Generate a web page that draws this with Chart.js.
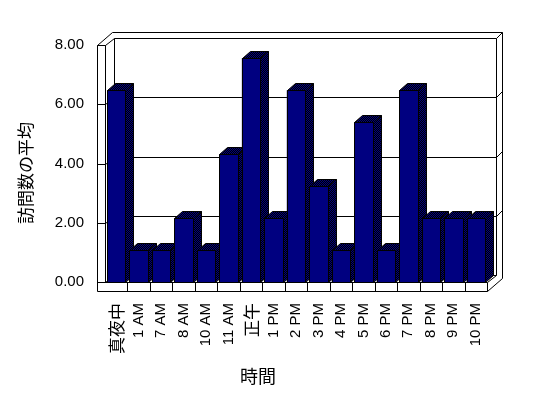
<!DOCTYPE html>
<html>
<head>
<meta charset="utf-8">
<script src="https://cdn.jsdelivr.net/npm/chart.js@4.4.1/dist/chart.umd.min.js"></script>
<style>
  html, body { margin: 0; padding: 0; background: #fff; }
  canvas { display: block; }
</style>
</head>
<body>
<canvas id="chart" width="548" height="398"></canvas>
<script>
// data
const hours = ['真夜中', '1 AM', '7 AM', '8 AM', '10 AM', '11 AM', '正午', '1 PM', '2 PM', '3 PM', '4 PM', '5 PM', '6 PM', '7 PM', '8 PM', '9 PM', '10 PM'];
const avgVisits = [6.47, 1.07, 1.07, 2.15, 1.07, 4.31, 7.55, 2.15, 6.47, 3.23, 1.07, 5.39, 1.07, 6.47, 2.15, 2.15, 2.15];
const yTicks = [0, 2, 4, 6, 8];
const xTitle = '時間';
const yTitle = '訪問数の平均';

const NAVY = '#000080';
const DEPTH = { x: 9, y: -7 };     // floor / inner face of back wall
const WALL = { x: 15, y: -13 };    // outer face of back wall
const BAR_DEPTH = { x: 8, y: -7 };
const WALL_W = 8;                  // left wall thickness
const FLOOR_H = 9;                 // floor thickness
const LATIN = "'Liberation Sans', Arial, 'Noto Sans CJK JP', sans-serif";
const CJK = "'Noto Sans CJK JP', 'Liberation Sans', sans-serif";

const px = v => Math.round(v) + 0.5;

function polyline(ctx, pts, fill) {
  ctx.beginPath();
  pts.forEach(([x, y], i) => i ? ctx.lineTo(px(x), px(y)) : ctx.moveTo(px(x), px(y)));
  if (fill) { ctx.closePath(); ctx.fill(); }
  ctx.stroke();
}

function ditherPattern(ctx) {
  const c = document.createElement('canvas');
  c.width = 2; c.height = 2;
  const g = c.getContext('2d');
  g.fillStyle = '#000';
  g.fillRect(0, 0, 2, 2);
  g.fillStyle = NAVY;
  g.fillRect(0, 0, 1, 1);
  g.fillRect(1, 1, 1, 1);
  return ctx.createPattern(c, 'repeat');
}

// walls, floor and back gridlines
const box3d = {
  id: 'box3d',
  beforeDatasetsDraw(chart) {
    const { ctx, chartArea: a, scales } = chart;
    const L = a.left, R = a.right, T = a.top, B = a.bottom;
    const WL = L - WALL_W, FB = B + FLOOR_H;
    const D = DEPTH, W = WALL;
    ctx.save();
    ctx.strokeStyle = '#000';
    ctx.lineWidth = 1;

    // left wall
    polyline(ctx, [[L, T], [WL, T], [WL, FB]]);
    polyline(ctx, [[L, T], [L, B]]);
    polyline(ctx, [[WL, T], [WL + W.x, T + W.y]]);
    polyline(ctx, [[L, T], [L + D.x, T + D.y]]);

    // back wall
    polyline(ctx, [[WL + W.x, T + W.y], [R + W.x, T + W.y], [R + W.x, FB + W.y]]);
    polyline(ctx, [[L + D.x, B + D.y], [L + D.x, T + D.y], [R + D.x, T + D.y], [R + D.x, B + D.y]]);
    polyline(ctx, [[R + D.x, T + D.y], [R + W.x, T + W.y]]);

    // floor
    polyline(ctx, [[WL, B], [R, B], [R, FB], [WL, FB]]);
    polyline(ctx, [[R, B], [R + D.x, B + D.y]]);
    polyline(ctx, [[R, FB], [R + W.x, FB + W.y]]);
    polyline(ctx, [[L, B], [L + D.x, B + D.y], [R + D.x, B + D.y]]);
    const xs = scales.x;
    for (let i = 1; i < hours.length; i++) {
      const xx = (xs.getPixelForTick(i - 1) + xs.getPixelForTick(i)) / 2;
      polyline(ctx, [[xx, B], [xx, FB]]);
    }

    // value ticks on the wall and gridlines on the back wall
    yTicks.forEach(v => {
      const yy = scales.y.getPixelForValue(v);
      polyline(ctx, [[WL, yy], [L, yy]]);
      if (v > yTicks[0] && v < yTicks[yTicks.length - 1]) {
        polyline(ctx, [[L, yy], [L + D.x, yy + D.y], [R + D.x, yy + D.y], [R + W.x, yy + W.y]]);
      }
    });
    ctx.restore();
  }
};

// 3d faces of the bars, drawn bar by bar so the next one covers the side
const bars3d = {
  id: 'bars3d',
  afterDatasetsDraw(chart) {
    const { ctx } = chart;
    const pattern = ditherPattern(ctx);
    const dx = BAR_DEPTH.x, dy = BAR_DEPTH.y;
    ctx.save();
    ctx.strokeStyle = '#000';
    ctx.lineWidth = 1;
    chart.getDatasetMeta(0).data.forEach(bar => {
      const { x, y, base, width } = bar.getProps(['x', 'y', 'base', 'width'], true);
      const l = x - width / 2, r = x + width / 2;
      ctx.fillStyle = pattern;
      polyline(ctx, [[l, y], [l + dx, y + dy], [r + dx, y + dy], [r, y]], true);
      polyline(ctx, [[r, y], [r + dx, y + dy], [r + dx, base + dy], [r, base]], true);
      ctx.fillStyle = NAVY;
      polyline(ctx, [[l, y], [r, y], [r, base], [l, base]], true);
    });
    ctx.restore();
  }
};

const axisTitles = {
  id: 'axisTitles',
  afterDraw(chart) {
    const { ctx } = chart;
    ctx.save();
    ctx.fillStyle = '#000';
    ctx.textAlign = 'center';
    ctx.textBaseline = 'middle';
    ctx.font = `18px ${CJK}`;
    ctx.fillText(xTitle, 258, 376);
    ctx.translate(26, 173);
    ctx.rotate(-Math.PI / 2);
    ctx.font = `17px ${CJK}`;
    ctx.fillText(yTitle, 0, 0);
    ctx.restore();
  }
};

new Chart(document.getElementById('chart'), {
  type: 'bar',
  data: {
    labels: hours,
    datasets: [{
      data: avgVisits,
      backgroundColor: NAVY,
      borderWidth: 0,
      barPercentage: 0.82,
      categoryPercentage: 1,
    }],
  },
  options: {
    responsive: false,
    animation: false,
    layout: { padding: { top: 45, right: 61, left: 0, bottom: 0 } },
    plugins: { legend: { display: false }, tooltip: { enabled: false } },
    scales: {
      x: {
        grid: { display: false, drawTicks: false },
        border: { display: false },
        ticks: {
          minRotation: 90, maxRotation: 90, autoSkip: false, padding: 21, color: '#000',
          font: c => /[^\x00-\x7f]/.test(hours[c.index] || '') ? { family: CJK, size: 17 } : { family: LATIN, size: 15 },
        },
        afterFit: s => { s.height = 116; },
      },
      y: {
        min: 0, max: 8,
        grid: { display: false, drawTicks: false },
        border: { display: false },
        ticks: { stepSize: 2, padding: 21, color: '#000', font: { family: LATIN, size: 15 }, callback: v => v.toFixed(2) },
        afterFit: s => { s.width = 105; },
      },
    },
  },
  plugins: [box3d, bars3d, axisTitles],
});
</script>
</body>
</html>
